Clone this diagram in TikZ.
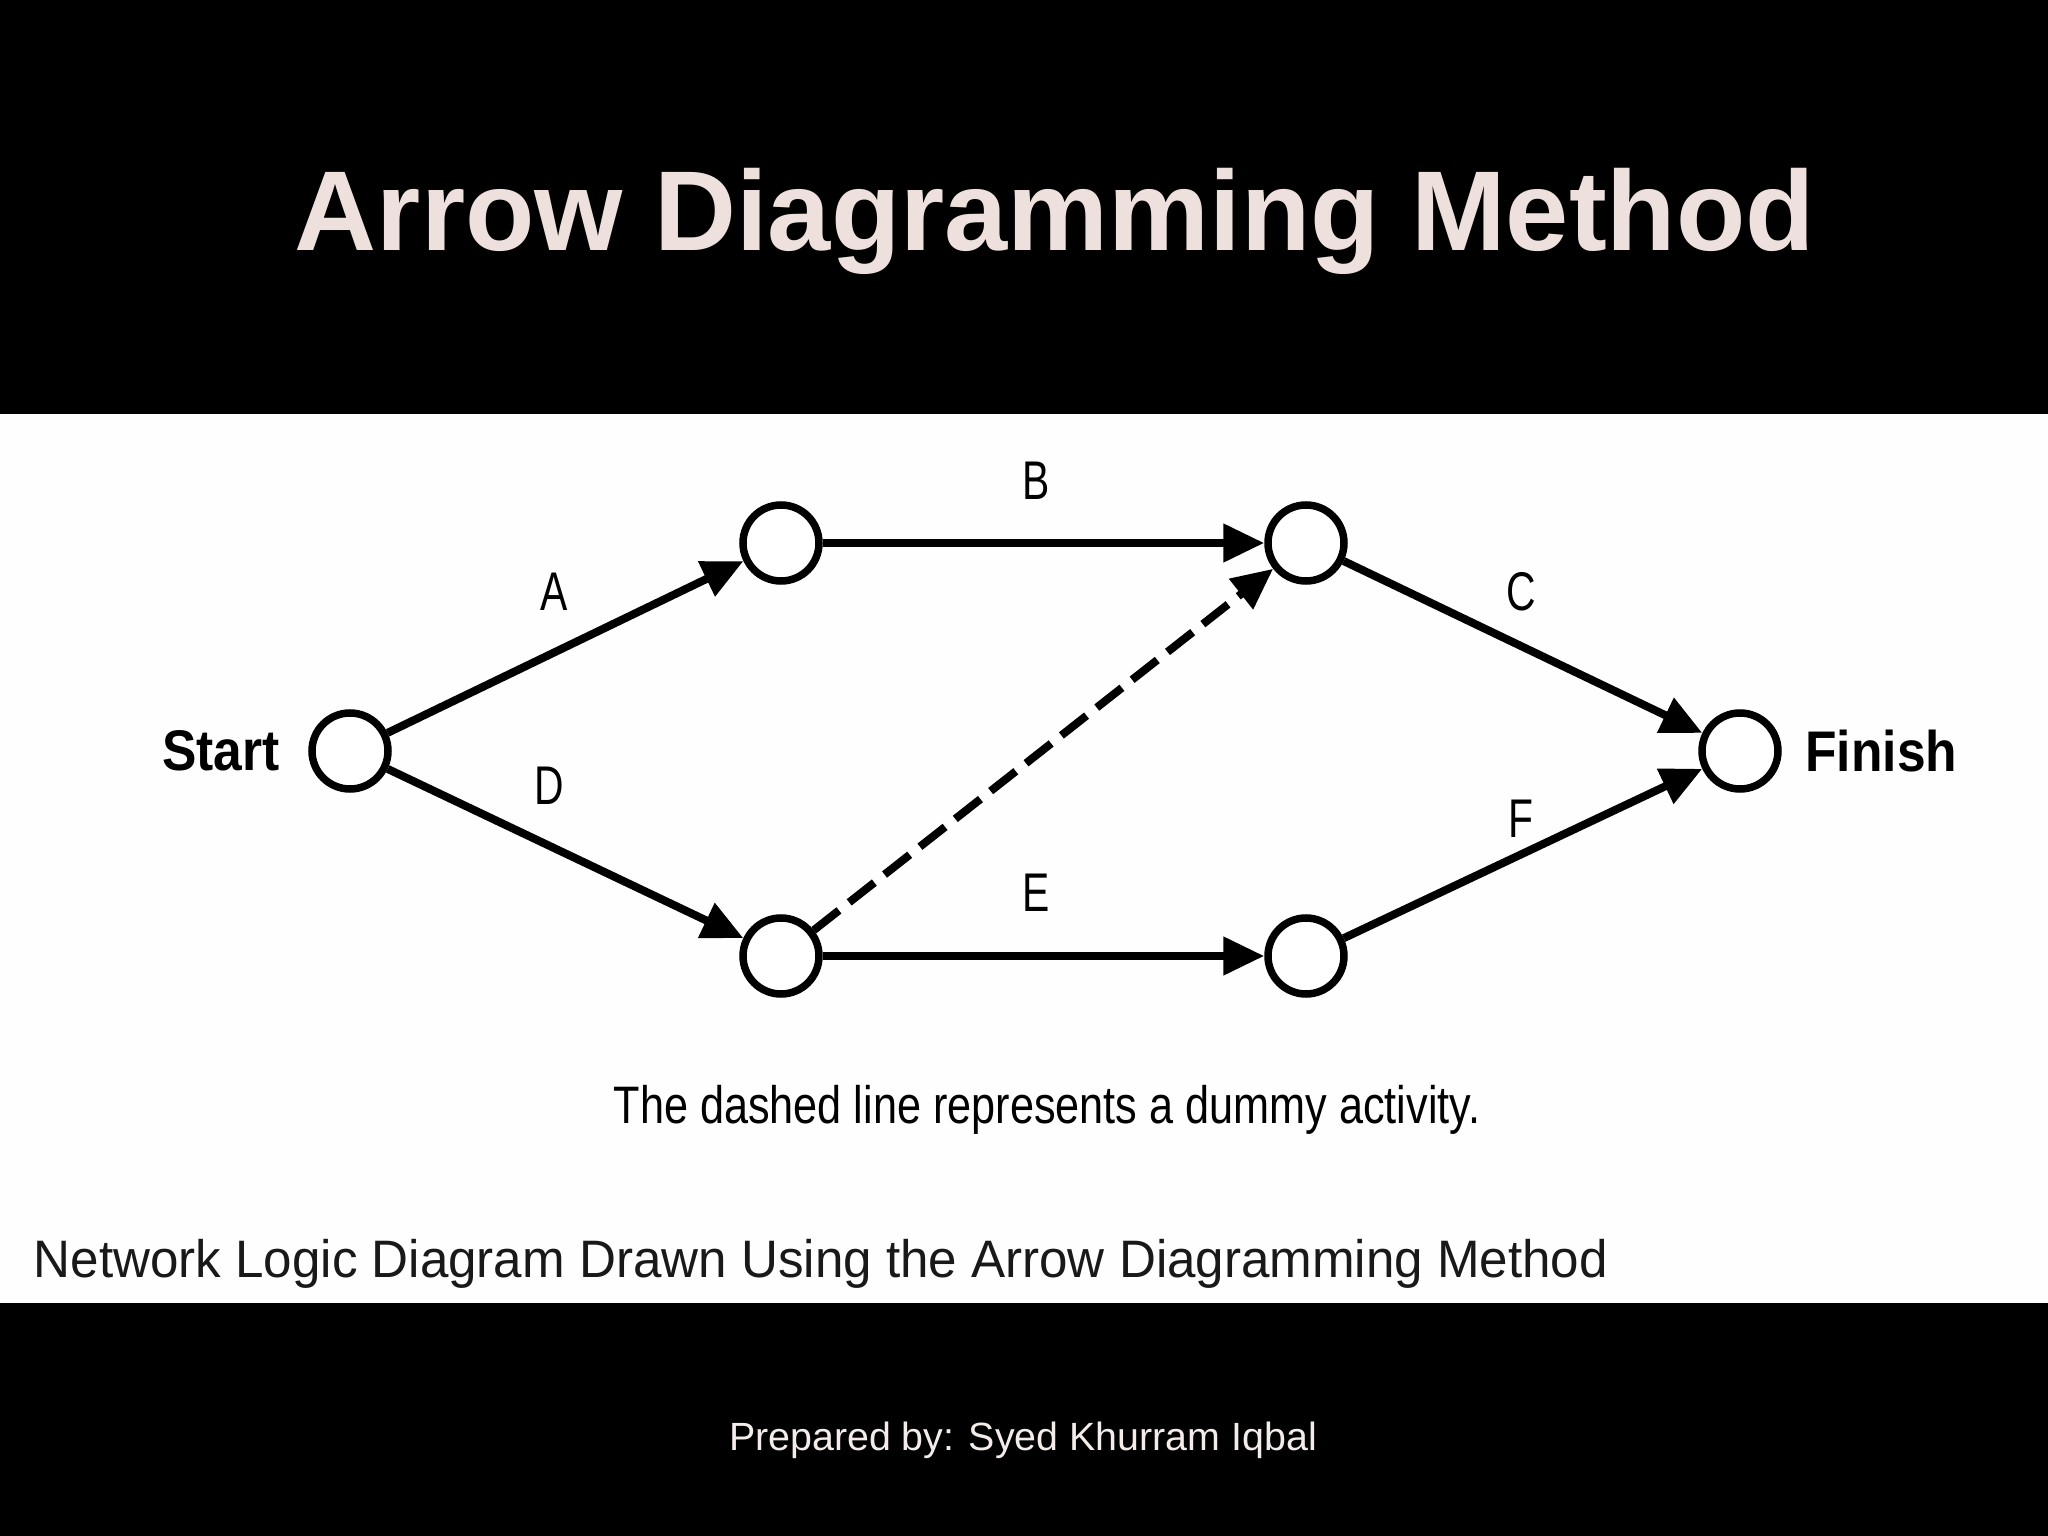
\documentclass[tikz,border=0pt]{standalone}
\usepackage{fontspec}
\setmainfont{Liberation Sans}
\newfontfamily\narrowfont[FakeStretch=0.75]{Liberation Sans}
\newfontfamily\capfont[FakeStretch=0.82]{Liberation Sans}
\newfontfamily\notefont[FakeStretch=0.97]{Liberation Sans}
\newfontfamily\tagfont[FakeStretch=0.9]{Liberation Sans}
\usepackage{xcolor}
\usepackage{tikz}
\usetikzlibrary{positioning}
\usetikzlibrary{arrows.meta}
\usetikzlibrary{shapes}
\definecolor{titlepink}{HTML}{EEE0DC}
\definecolor{footwhite}{HTML}{F4ECEA}
\definecolor{pagewhite}{HTML}{FEFEFE}

\begin{document}
\begin{tikzpicture}[
                	    event/.style = { circle, draw, black, fill = white, line width = 0.075cm, minimum size = 0.76cm, inner sep=0pt },
                		act/.style = { -{Triangle[length=0.41cm, width=0.37cm]}, line width = 0.08cm, black },
                		dummy/.style = { act, dash pattern = on 0.32cm off 0.13cm },
                		lbl/.style = { font = \narrowfont\fontsize{15.5}{18}\selectfont, inner sep=0pt },
                		tag/.style = { font = \tagfont\bfseries\fontsize{16.3}{19}\selectfont, inner sep=0pt },
            		] 
            		    \useasboundingbox (0,0) rectangle (20.48,-15.36);
            		    \fill[black] (0,0) rectangle (20.48,-4.14);
            		    \fill[pagewhite] (0,-4.14) rectangle (20.48,-13.03);
            		    \fill[black] (0,-13.03) rectangle (20.48,-15.36);
            		    \node[font = \bfseries\fontsize{32.3}{38}\selectfont, text = titlepink, anchor = base] (Title) at (10.55,-2.51) {Arrow Diagramming Method};
            		    % events
            		    \node[event] (Start) at (3.50,-7.51) {};
            		    \node[event] (EvtB) at (7.81,-5.43) {};
            		    \node[event] (EvtC) at (13.06,-5.43) {};
            		    \node[event] (EvtE) at (7.81,-9.56) {};
            		    \node[event] (EvtF) at (13.06,-9.56) {};
            		    \node[event] (Finish) at (17.40,-7.51) {};
            		    \node[tag, left = 0.28cm of Start] (StartTag) {Start};
            		    \node[tag, right = 0.23cm of Finish] (FinishTag) {Finish};
            		    % activities
            		    \draw[act] (Start) -- (EvtB);
            		    \draw[act] (EvtB) -- (EvtC);
            		    \draw[act] (EvtC) -- (Finish);
            		    \draw[act] (Start) -- (EvtE);
            		    \draw[act] (EvtE) -- (EvtF);
            		    \draw[act] (EvtF) -- (Finish);
            		    \draw[dummy] (EvtE) -- (EvtC);
            		    \node[lbl] (LblA) at (5.54,-5.92) {A};
            		    \node[lbl] (LblB) at (10.36,-4.81) {B};
            		    \node[lbl] (LblC) at (15.21,-5.92) {C};
            		    \node[lbl] (LblD) at (5.49,-7.86) {D};
            		    \node[lbl] (LblE) at (10.36,-8.93) {E};
            		    \node[lbl] (LblF) at (15.21,-8.19) {F};
            		    \node[font = \capfont\fontsize{15}{18}\selectfont, anchor = base] (Note) at (10.47,-11.23) {The dashed line represents a dummy activity.};
            		    \node[font = \notefont\fontsize{15}{18}\selectfont, anchor = base west, inner sep=0pt, color = black!90] (Caption) at (0.33,-12.77) {Network Logic Diagram Drawn Using the Arrow Diagramming Method};
            		    \node[font = \fontsize{11.2}{13}\selectfont, text = footwhite, anchor = base] (Author) at (10.23,-14.50) {Prepared by: Syed Khurram Iqbal};
            		\end{tikzpicture}
\end{document}
